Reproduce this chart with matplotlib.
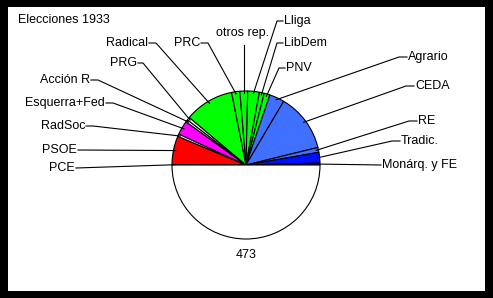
import numpy as np
import matplotlib
matplotlib.use("Agg")
import matplotlib.pyplot as plt
from matplotlib.patches import Rectangle

# escaños 1933 (total 473), de izquierda a derecha
parties = ["PCE", "PSOE", "RadSoc", "Esquerra+Fed", "Acción R", "PRG",
           "Radical", "PRC", "otros rep.", "Lliga", "LibDem", "PNV",
           "Agrario", "CEDA", "RE", "Tradic.", "Monárq. y FE"]
seats = [1, 59, 5, 29, 5, 6, 102, 17, 16, 24, 10, 12, 31, 120, 10, 22, 4]
colors = ["#FF0000", "#FF0000", "#FFFFFF", "#FF00FF", "#FFFFFF", "#FFFFFF",
          "#00FF00", "#00FF00", "#00FF00", "#00FF00", "#00FF00", "#00FF00",
          "#4070FF", "#4070FF", "#4070FF", "#0010FF", "#0010FF"]
total = sum(seats)

# label text anchor (pixel coords, y down), side the text sits on, stub length
label_pos = [(75, 168, "r", 0), (77, 150, "r", 0), (85, 126, "r", 7),
             (105, 103, "r", 7), (90, 80, "r", 7), (137, 63, "r", 5),
             (148, 43, "r", 7), (200, 43, "r", 7), (242, 33, "c", 0),
             (284, 21, "l", 6), (284, 43, "l", 6), (286, 68, "l", 6),
             (408, 57, "l", 8), (415, 86, "l", 8), (418, 121, "l", 8),
             (401, 141, "l", 8), (382, 165, "l", 0)]

W, H = 493, 298
fig = plt.figure(figsize=(W / 100, H / 100), dpi=100)
fig.patch.set_facecolor("black")
ax = fig.add_axes([0, 0, 1, 1])

cx, cy, r = 246, H - 165, 74

# white panel inside the black frame
ax.add_patch(Rectangle((8, H - 291), 477, 284, facecolor="white", edgecolor="none", zorder=0))

ax.pie(seats + [total], colors=colors + ["white"], startangle=180, counterclock=False,
       center=(cx, cy), radius=r,
       wedgeprops=dict(edgecolor="black", linewidth=0.8))

ax.set_xlim(0, W)
ax.set_ylim(0, H)
ax.set_aspect("equal")
ax.axis("off")

font = dict(family="Liberation Sans", fontsize=9, color="black")

ax.text(18, H - 20, "Elecciones 1933", ha="left", va="center", **font)
ax.text(cx, H - 255, str(total), ha="center", va="center", **font)

cum = np.cumsum([0] + seats)
for i, name in enumerate(parties):
    mid = 180 - (cum[i] + seats[i] / 2) * 180 / total
    ang = np.deg2rad(mid)
    ax_, ay_ = cx + 0.97 * r * np.cos(ang), cy + 0.97 * r * np.sin(ang)
    tx, ty, side, stub = label_pos[i]
    ty = H - ty
    if side == "r":
        ax.text(tx, ty, name, ha="right", va="center", **font)
        xs = [tx + 1, tx + 1 + stub, ax_]
        ys = [ty, ty, ay_]
    elif side == "l":
        ax.text(tx, ty, name, ha="left", va="center", **font)
        xs = [tx - 1, tx - 1 - stub, ax_]
        ys = [ty, ty, ay_]
    else:
        ax.text(tx, ty, name, ha="center", va="center", **font)
        xs = [ax_, ax_]
        ys = [ty - 12, ay_]
    ax.plot(xs, ys, color="black", linewidth=0.8, zorder=5)

fig.savefig("out.png", dpi=100, facecolor="black")
